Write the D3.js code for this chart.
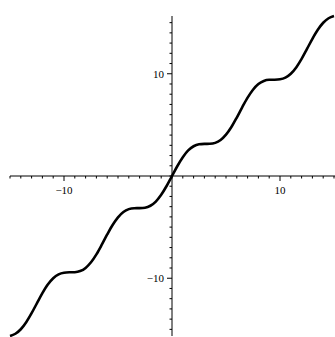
<!DOCTYPE html>
<html>
<head>
<meta charset="utf-8">
<script src="https://cdn.jsdelivr.net/npm/d3@7"></script>
<style>
  body { margin: 0; background: #fff; }
  text { font-family: "Liberation Serif", "DejaVu Serif", serif; font-size: 11px; fill: #000; }
</style>
</head>
<body>
<svg id="chart" width="335" height="337"></svg>
<script>
// curve values (x, y)
const xValues = [-15, -14.5, -14, -13.5, -13, -12.5, -12, -11.5, -11, -10.5, -10, -9.5, -9, -8.5, -8, -7.5, -7, -6.5, -6, -5.5, -5, -4.5, -4, -3.5, -3, -2.5, -2, -1.5, -1, -0.5,
  0, 0.5, 1, 1.5, 2, 2.5, 3, 3.5, 4, 4.5, 5, 5.5, 6, 6.5, 7, 7.5, 8, 8.5, 9, 9.5, 10, 10.5, 11, 11.5, 12, 12.5, 13, 13.5, 14, 14.5, 15];
const yValues = [-15.65, -15.43, -14.99, -14.30, -13.42, -12.43, -11.46, -10.62, -10.00, -9.62, -9.46, -9.42, -9.41, -9.30, -8.99, -8.44, -7.66, -6.72, -5.72, -4.79, -4.04, -3.52, -3.24, -3.15, -3.14, -3.10, -2.91, -2.50, -1.84, -0.98,
  0, 0.98, 1.84, 2.50, 2.91, 3.10, 3.14, 3.15, 3.24, 3.52, 4.04, 4.79, 5.72, 6.72, 7.66, 8.44, 8.99, 9.30, 9.41, 9.42, 9.46, 9.62, 10.00, 10.62, 11.46, 12.43, 13.42, 14.30, 14.99, 15.43, 15.65];
const xTickLabels = [-10, 10];
const yTickLabels = [-10, 10];

const svg = d3.select('#chart');
const x = d3.scaleLinear().domain([-15, 15]).range([10, 334]);
const y = d3.scaleLinear().domain([-15.65, 15.65]).range([336, 16]);

const points = xValues.map((v, i) => [v, yValues[i]]);

// x axis
const xAxisG = svg.append('g').attr('transform', `translate(0,${y(0)})`);
xAxisG.append('line').attr('x1', x(-15)).attr('x2', 335).attr('stroke', '#000').attr('stroke-width', 1);
xAxisG.selectAll('.minor').data(d3.range(-15, 16)).join('line')
  .attr('x1', d => x(d)).attr('x2', d => x(d))
  .attr('y1', 0).attr('y2', d => xTickLabels.includes(d) ? 5 : 2.5)
  .attr('stroke', '#000').attr('stroke-width', 1);
xAxisG.selectAll('text').data(xTickLabels).join('text')
  .attr('x', d => x(d)).attr('y', 18)
  .attr('text-anchor', 'middle')
  .text(d => d < 0 ? '\u2212' + Math.abs(d) : d);

// y axis
const yAxisG = svg.append('g').attr('transform', `translate(${x(0)},0)`);
yAxisG.append('line').attr('y1', y(15.65)).attr('y2', y(-15.65)).attr('stroke', '#000').attr('stroke-width', 1);
yAxisG.selectAll('.minor').data(d3.range(-15, 16)).join('line')
  .attr('y1', d => y(d)).attr('y2', d => y(d))
  .attr('x1', 0).attr('x2', d => yTickLabels.includes(d) ? -5 : -2.5)
  .attr('stroke', '#000').attr('stroke-width', 1);
yAxisG.selectAll('text').data(yTickLabels).join('text')
  .attr('x', -8).attr('y', d => y(d)).attr('dy', '0.35em')
  .attr('text-anchor', 'end')
  .text(d => d < 0 ? '\u2212' + Math.abs(d) : d);

// the curve
const line = d3.line().x(d => x(d[0])).y(d => y(d[1])).curve(d3.curveMonotoneX);
svg.append('path').datum(points)
  .attr('d', line)
  .attr('fill', 'none')
  .attr('stroke', '#000')
  .attr('stroke-width', 2.6)
  .attr('stroke-linejoin', 'round');
</script>
</body>
</html>
